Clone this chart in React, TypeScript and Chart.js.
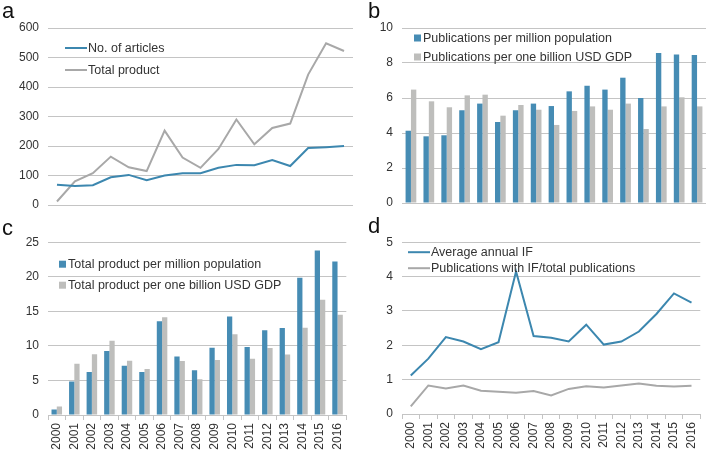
import React, { useEffect, useRef } from "react";
import { Chart, registerables } from "chart.js";

Chart.register(...registerables);

const years = ["2000","2001","2002","2003","2004","2005","2006","2007","2008","2009","2010","2011","2012","2013","2014","2015","2016"];

// Panel a
const articles = [69, 64, 67, 94, 102, 84, 100, 108, 108, 126, 136, 135, 152, 132, 193, 196, 200];
const totalProduct = [12, 80, 108, 164, 128, 115, 252, 161, 126, 190, 290, 206, 261, 276, 442, 548, 522];

// Panel b
const pubPerMillion = [4.13, 3.81, 3.87, 5.3, 5.68, 4.63, 5.3, 5.68, 5.54, 6.38, 6.7, 6.48, 7.16, 6.0, 8.57, 8.48, 8.46];
const pubPerBillionGDP = [6.48, 5.81, 5.47, 6.15, 6.19, 4.99, 5.6, 5.33, 4.46, 5.26, 5.52, 5.33, 5.68, 4.23, 5.52, 6.04, 5.52];

// Panel c
const prodPerMillion = [0.8, 4.85, 6.23, 9.27, 7.13, 6.23, 13.55, 8.46, 6.46, 9.74, 14.26, 9.84, 12.26, 12.6, 19.87, 23.81, 22.2];
const prodPerBillionGDP = [1.24, 7.41, 8.79, 10.74, 7.84, 6.65, 14.16, 7.8, 5.18, 7.94, 11.69, 8.13, 9.7, 8.75, 12.64, 16.68, 14.5];

// Panel d
const avgIF = [1.12, 1.61, 2.24, 2.11, 1.89, 2.09, 4.15, 2.27, 2.22, 2.11, 2.6, 2.02, 2.11, 2.4, 2.91, 3.51, 3.24];
const ifRatio = [0.22, 0.83, 0.74, 0.83, 0.68, 0.65, 0.62, 0.67, 0.54, 0.73, 0.81, 0.77, 0.83, 0.89, 0.82, 0.8, 0.82];

const BLUE = "#468CB4";
const GRAY_BAR = "#BEBEBC";
const BLUE_LINE = "#3C87AF";
const GRAY_LINE = "#A8A8A8";
const GRID = "#C4C4C4";
const TEXT = "#333333";
const FONT = "'Liberation Sans', Arial, sans-serif";

type LegendCfg = { kind: "line" | "box"; dx: number; dy: number[]; textDx: number };

const legendPlugin = {
  id: "customLegend",
  afterDraw(chart: any, _args: any, opts: any) {
    const cfg: LegendCfg = opts.cfg;
    if (!cfg) return;
    const ctx = chart.ctx;
    const area = chart.chartArea;
    ctx.save();
    ctx.font = `12.5px ${FONT}`;
    ctx.textBaseline = "middle";
    ctx.textAlign = "left";
    chart.data.datasets.forEach((ds: any, i: number) => {
      const x = area.left + cfg.dx;
      const y = area.top + cfg.dy[i];
      const color = ds.borderColor && cfg.kind === "line" ? ds.borderColor : ds.backgroundColor;
      if (cfg.kind === "line") {
        ctx.strokeStyle = color;
        ctx.lineWidth = 2;
        ctx.beginPath();
        ctx.moveTo(x, y);
        ctx.lineTo(x + 22, y);
        ctx.stroke();
      } else {
        ctx.fillStyle = color;
        ctx.fillRect(x, y - 3.5, 7, 7);
      }
      ctx.fillStyle = TEXT;
      ctx.fillText(ds.label, x + cfg.textDx, y + 0.5);
    });
    ctx.restore();
  },
};

type PanelProps = {
  type: "line" | "bar";
  series: { label: string; data: number[]; color: string }[];
  yMax: number;
  yStep: number;
  showX: boolean;
  width: number;
  height: number;
  top: number;
  bottom: number;
  right: number;
  legend: LegendCfg;
};

function Panel(p: PanelProps) {
  const ref = useRef<HTMLCanvasElement>(null);
  useEffect(() => {
    if (!ref.current) return;
    const chart = new Chart(ref.current, {
      type: p.type,
      data: {
        labels: years,
        datasets: p.series.map((s) =>
          p.type === "line"
            ? {
                label: s.label,
                data: s.data,
                borderColor: s.color,
                backgroundColor: s.color,
                borderWidth: 2,
                pointRadius: 0,
                tension: 0,
              }
            : {
                label: s.label,
                data: s.data,
                backgroundColor: s.color,
                borderWidth: 0,
                categoryPercentage: 0.6,
                barPercentage: 1.0,
              }
        ),
      } as any,
      plugins: [legendPlugin],
      options: {
        responsive: false,
        animation: false,
        devicePixelRatio: 1,
        layout: { padding: { top: p.top, bottom: p.showX ? 0 : p.height - p.bottom, left: 0, right: p.right } },
        plugins: {
          legend: { display: false },
          tooltip: { enabled: false },
          customLegend: { cfg: p.legend },
        } as any,
        scales: {
          x: {
            offset: true,
            ticks: {
              display: p.showX,
              minRotation: 90,
              maxRotation: 90,
              autoSkip: false,
              padding: 3,
              color: TEXT,
              font: { family: FONT, size: 12 },
            },
            grid: {
              display: p.showX,
              offset: true,
              drawOnChartArea: false,
              drawTicks: true,
              tickLength: 5,
              color: GRID,
            },
            border: { display: p.showX, color: GRID },
            afterFit: (scale: any) => {
              scale.height = p.showX ? p.height - p.bottom : 0;
            },
          },
          y: {
            min: 0,
            max: p.yMax,
            ticks: {
              stepSize: p.yStep,
              padding: 9,
              color: TEXT,
              font: { family: FONT, size: 12 },
            },
            grid: { color: GRID, drawTicks: false, lineWidth: 1 },
            border: { display: false },
            afterFit: (scale: any) => {
              scale.width = 48;
            },
          },
        },
      } as any,
    });
    return () => chart.destroy();
  }, []);
  return <canvas ref={ref} width={p.width} height={p.height} style={{ display: "block", width: p.width, height: p.height }} />;
}

const letterStyle: React.CSSProperties = {
  position: "absolute",
  fontFamily: FONT,
  fontSize: 22,
  lineHeight: "22px",
  color: "#111",
};

export default function App() {
  return (
    <div style={{ position: "fixed", left: 0, top: 0, width: 709, height: 453, background: "#fff", overflow: "hidden" }}>
      <div style={{ position: "absolute", left: 0, top: 0 }}>
        <Panel
          type="line"
          series={[
            { label: "No. of articles", data: articles, color: BLUE_LINE },
            { label: "Total product", data: totalProduct, color: GRAY_LINE },
          ]}
          yMax={600}
          yStep={100}
          showX={false}
          width={355}
          height={226}
          top={28}
          bottom={205}
          right={2}
          legend={{ kind: "line", dx: 17, dy: [20, 42], textDx: 23 }}
        />
      </div>
      <div style={{ position: "absolute", left: 354, top: 0 }}>
        <Panel
          type="bar"
          series={[
            { label: "Publications per million population", data: pubPerMillion, color: BLUE },
            { label: "Publications per one billion USD GDP", data: pubPerBillionGDP, color: GRAY_BAR },
          ]}
          yMax={10}
          yStep={2}
          showX={false}
          width={355}
          height={226}
          top={28}
          bottom={203}
          right={3}
          legend={{ kind: "box", dx: 12, dy: [10, 29], textDx: 9 }}
        />
      </div>
      <div style={{ position: "absolute", left: 0, top: 226 }}>
        <Panel
          type="bar"
          series={[
            { label: "Total product per million population", data: prodPerMillion, color: BLUE },
            { label: "Total product per one billion USD GDP", data: prodPerBillionGDP, color: GRAY_BAR },
          ]}
          yMax={25}
          yStep={5}
          showX={true}
          width={355}
          height={227}
          top={14}
          bottom={189}
          right={2}
          legend={{ kind: "box", dx: 11, dy: [22, 43], textDx: 9 }}
        />
      </div>
      <div style={{ position: "absolute", left: 354, top: 226 }}>
        <Panel
          type="line"
          series={[
            { label: "Average annual IF", data: avgIF, color: BLUE_LINE },
            { label: "Publications with IF/total publications", data: ifRatio, color: GRAY_LINE },
          ]}
          yMax={5}
          yStep={1}
          showX={true}
          width={355}
          height={227}
          top={14}
          bottom={188}
          right={3}
          legend={{ kind: "line", dx: 6, dy: [10, 26], textDx: 23 }}
        />
      </div>
      <div style={{ ...letterStyle, left: 2, top: 0 }}>a</div>
      <div style={{ ...letterStyle, left: 368, top: 0 }}>b</div>
      <div style={{ ...letterStyle, left: 2, top: 217 }}>c</div>
      <div style={{ ...letterStyle, left: 368, top: 215 }}>d</div>
    </div>
  );
}
